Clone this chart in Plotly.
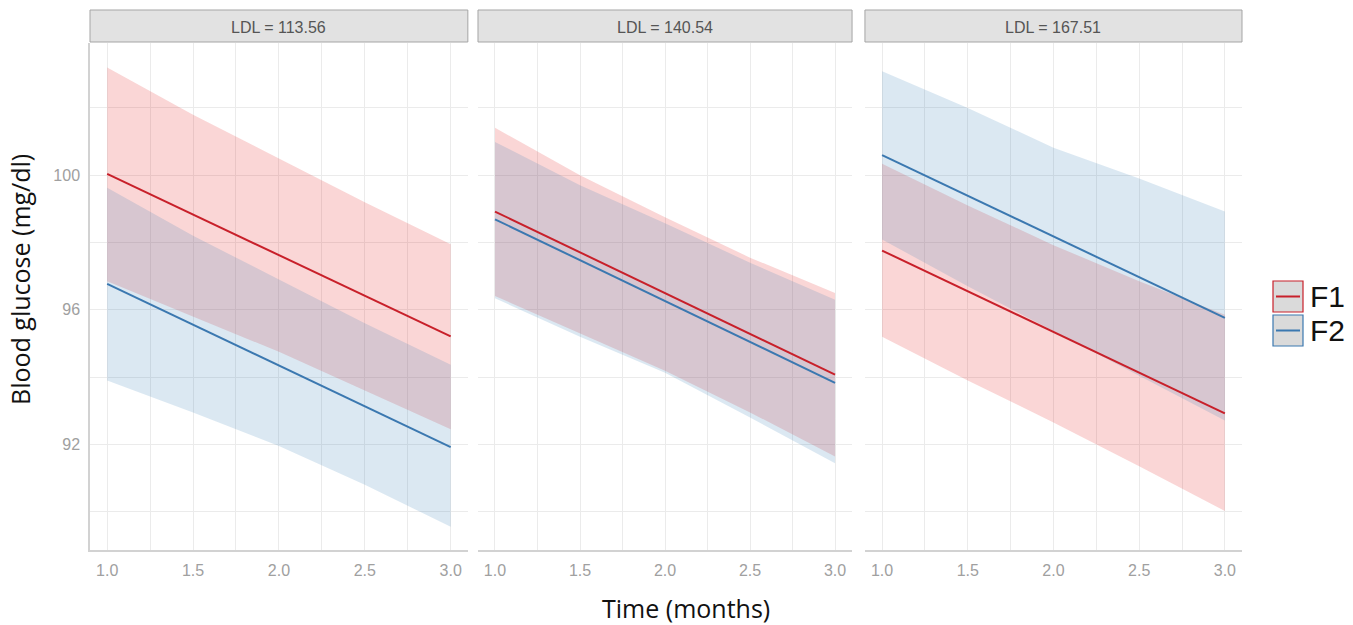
import plotly.graph_objects as go

# ---------------- data ----------------
panels = ["LDL = 113.56", "LDL = 140.54", "LDL = 167.51"]
groups = ["F1", "F2"]

x_band = [1.0, 1.5, 2.0, 2.5, 3.0]
x_line = [1.0, 3.0]

# panel 1
p1_f1_upper = [103.2, 101.8, 100.5, 99.2, 97.95]
p1_f1_lower = [96.85, 95.8, 94.75, 93.6, 92.45]
p1_f2_upper = [99.63, 98.2, 96.9, 95.6, 94.37]
p1_f2_lower = [93.9, 92.95, 91.95, 90.8, 89.55]
p1_f1_line = [100.04, 95.21]
p1_f2_line = [96.77, 91.92]

# panel 2
p2_f1_upper = [101.41, 100.0, 98.75, 97.55, 96.5]
p2_f1_lower = [96.41, 95.3, 94.19, 92.95, 91.64]
p2_f2_upper = [100.99, 99.7, 98.57, 97.4, 96.3]
p2_f2_lower = [96.34, 95.2, 94.13, 92.8, 91.44]
p2_f1_line = [98.92, 94.07]
p2_f2_line = [98.69, 93.83]

# panel 3
p3_f1_upper = [100.34, 99.1, 97.92, 96.85, 95.85]
p3_f1_lower = [95.2, 93.9, 92.65, 91.35, 90.02]
p3_f2_upper = [103.09, 102.0, 100.82, 99.9, 98.92]
p3_f2_lower = [98.09, 96.7, 95.37, 94.05, 92.71]
p3_f1_line = [97.76, 92.92]
p3_f2_line = [100.60, 95.76]

y_ticks = [90, 92, 94, 96, 98, 100, 102]
y_ticktext = ["", "92", "", "96", "", "100", ""]
x_ticks = [1.0, 1.25, 1.5, 1.75, 2.0, 2.25, 2.5, 2.75, 3.0]
x_ticktext = ["1.0", "", "1.5", "", "2.0", "", "2.5", "", "3.0"]

data = [
    {"F1": (p1_f1_upper, p1_f1_lower, p1_f1_line), "F2": (p1_f2_upper, p1_f2_lower, p1_f2_line)},
    {"F1": (p2_f1_upper, p2_f1_lower, p2_f1_line), "F2": (p2_f2_upper, p2_f2_lower, p2_f2_line)},
    {"F1": (p3_f1_upper, p3_f1_lower, p3_f1_line), "F2": (p3_f2_upper, p3_f2_lower, p3_f2_line)},
]

# ---------------- style ----------------
W, H = 1353, 625
ML, MR, MT, MB = 90, 111, 43, 75
line_col = {"F1": "#C8202A", "F2": "#3B78B0"}
fill_col = {"F1": "rgba(228,26,28,0.18)", "F2": "rgba(55,126,184,0.18)"}
domains = [(0.0, 0.328), (0.3368, 0.6615), (0.6727, 1.0)]
grid = "#EBEBEB"
tickfont = dict(family="Liberation Sans, Arial", size=16, color="#A0A0A0")

fig = go.Figure()

for i, pdata in enumerate(data):
    xa = "x" if i == 0 else f"x{i+1}"
    ya = "y" if i == 0 else f"y{i+1}"
    for g in groups:
        up, lo, _ = pdata[g]
        fig.add_trace(go.Scatter(x=x_band, y=up, mode="lines", line=dict(width=0, color=line_col[g]),
                                 showlegend=False, hoverinfo="skip", xaxis=xa, yaxis=ya))
        fig.add_trace(go.Scatter(x=x_band, y=lo, mode="lines", line=dict(width=0, color=line_col[g]),
                                 fill="tonexty", fillcolor=fill_col[g],
                                 showlegend=False, hoverinfo="skip", xaxis=xa, yaxis=ya))
    for g in groups:
        fig.add_trace(go.Scatter(x=x_line, y=pdata[g][2], mode="lines",
                                 line=dict(width=2, color=line_col[g]),
                                 showlegend=False, name=g, xaxis=xa, yaxis=ya))

layout = dict(
    width=W, height=H,
    margin=dict(l=ML, r=MR, t=MT, b=MB, pad=0),
    plot_bgcolor="white", paper_bgcolor="white",
    showlegend=False,
)
for i in range(3):
    xk = "xaxis" if i == 0 else f"xaxis{i+1}"
    yk = "yaxis" if i == 0 else f"yaxis{i+1}"
    layout[xk] = dict(domain=list(domains[i]), range=[0.9, 3.1], tickvals=x_ticks, ticktext=x_ticktext,
                      showgrid=True, gridcolor=grid, gridwidth=1, zeroline=False,
                      showline=True, linecolor="#D2D2D2", linewidth=1.5, ticks="",
                      tickfont=tickfont, ticklabelstandoff=5,
                      anchor="y" if i == 0 else f"y{i+1}")
    layout[yk] = dict(range=[88.86, 103.93], tickvals=y_ticks, ticktext=y_ticktext,
                      showgrid=True, gridcolor=grid, gridwidth=1, zeroline=False,
                      showline=(i == 0), linecolor="#D2D2D2", linewidth=1.5, ticks="",
                      showticklabels=(i == 0), tickfont=tickfont, ticklabelstandoff=5,
                      anchor="x" if i == 0 else f"x{i+1}")
fig.update_layout(**layout)

PW = W - ML - MR
PH = H - MT - MB


def px_to_paper(px, py):
    return (px - ML) / PW, (H - MB - py) / PH


shapes = []
annotations = []
# facet strips
for i, lab in enumerate(panels):
    d0, d1 = domains[i]
    _, sy0 = px_to_paper(0, 42)
    _, sy1 = px_to_paper(0, 10)
    _, sty = px_to_paper(0, 27)
    shapes.append(dict(type="rect", xref="paper", yref="paper", x0=d0, x1=d1,
                       y0=sy0, y1=sy1, fillcolor="#E2E2E2",
                       line=dict(color="#A5A5A5", width=1), layer="above"))
    annotations.append(dict(text=lab, xref="paper", yref="paper", x=(d0 + d1) / 2, y=sty,
                            showarrow=False, xanchor="center", yanchor="middle",
                            font=dict(family="Liberation Sans, Arial", size=16, color="#555555")))

# axis titles
tx, ty = px_to_paper(686, 608)
annotations.append(dict(text="Time (months)", xref="paper", yref="paper", x=tx, y=ty,
                        showarrow=False, xanchor="center", yanchor="middle",
                        font=dict(family="Open Sans", size=25, color="#111111")))
tx, ty = px_to_paper(20, 280)
annotations.append(dict(text="Blood glucose (mg/dl)", xref="paper", yref="paper",
                        x=tx, y=ty, textangle=-90, showarrow=False,
                        xanchor="center", yanchor="middle",
                        font=dict(family="Open Sans", size=25, color="#111111")))

# legend (manual)
leg_items = [("F1", 281), ("F2", 315)]
for g, top in leg_items:
    x0, y0 = px_to_paper(1273, top + 31)
    x1, y1 = px_to_paper(1303, top)
    shapes.append(dict(type="rect", xref="paper", yref="paper", x0=x0, x1=x1, y0=y0, y1=y1,
                       fillcolor="#DADADA", line=dict(color=line_col[g], width=1.2)))
    lx0, ly = px_to_paper(1276, top + 15.5)
    lx1, _ = px_to_paper(1300, top + 15.5)
    shapes.append(dict(type="line", xref="paper", yref="paper", x0=lx0, x1=lx1, y0=ly, y1=ly,
                       line=dict(color=line_col[g], width=2)))
    tx, ty = px_to_paper(1308, top + 15.5)
    annotations.append(dict(text=g, xref="paper", yref="paper", x=tx, y=ty, showarrow=False,
                            xanchor="left", yanchor="middle",
                            font=dict(family="Liberation Sans, Arial", size=30, color="#111111")))

fig.update_layout(shapes=shapes, annotations=annotations)
fig.write_html("out.html", config={"displayModeBar": False},
               post_script="document.body.style.margin='0px';document.body.style.padding='0px';")
